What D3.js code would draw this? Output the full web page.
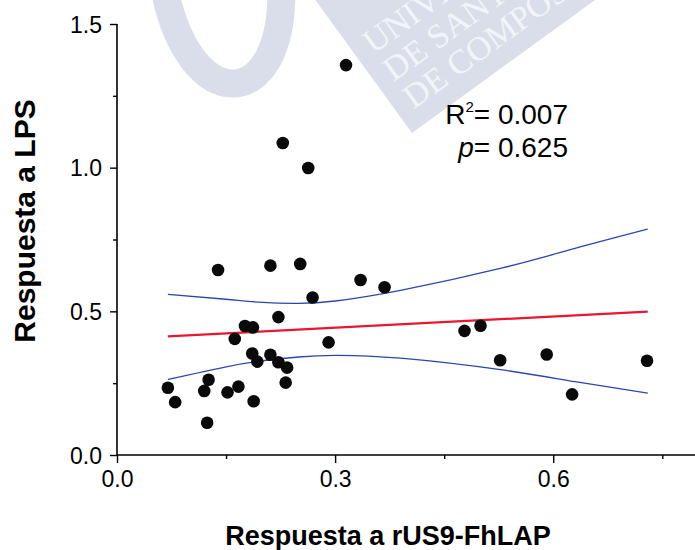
<!DOCTYPE html>
<meta charset="utf-8" />
<html>
    <head>
        <script src="https://d3js.org/d3.v7.min.js"></script>
        <style>
            body { margin: 0; background: white; }
            text { font-family: "Liberation Sans", Arial, sans-serif; fill: black; }
        </style>
    </head>
    <body>
        <svg width="695" height="550"></svg>
    </body>
    <script>
        // Data
        var xVals = [0.070, 0.080, 0.120, 0.124, 0.126, 0.139, 0.152, 0.228, 0.162, 0.167,
                     0.176, 0.186, 0.187, 0.188, 0.193, 0.211, 0.211, 0.222, 0.222, 0.232,
                     0.234, 0.252, 0.263, 0.269, 0.291, 0.315, 0.335, 0.368, 0.478, 0.500,
                     0.527, 0.591, 0.626, 0.729];
        var yVals = [0.234, 0.184, 0.223, 0.112, 0.262, 0.644, 0.218, 1.086, 0.404, 0.238,
                     0.449, 0.353, 0.444, 0.187, 0.325, 0.659, 0.349, 0.480, 0.323, 0.252,
                     0.304, 0.665, 0.999, 0.548, 0.392, 1.357, 0.609, 0.584, 0.432, 0.450,
                     0.330, 0.350, 0.211, 0.328];

        var fitX = [0.070, 0.730];
        var fitY = [0.413, 0.499];

        var bandX     = [0.07, 0.15, 0.20, 0.25, 0.30, 0.39, 0.53, 0.63, 0.73];
        var bandUpper = [0.559, 0.542, 0.531, 0.528, 0.536, 0.573, 0.651, 0.719, 0.786];
        var bandLower = [0.263, 0.307, 0.328, 0.341, 0.347, 0.337, 0.296, 0.255, 0.215];

        var xTicks = [0, 0.15, 0.3, 0.45, 0.6, 0.75];
        var xLabels = ["0.0", "", "0.3", "", "0.6", ""];
        var yTicks = [0, 0.25, 0.5, 0.75, 1.0, 1.25, 1.5];
        var yLabels = ["0.0", "", "0.5", "", "1.0", "", "1.5"];

        var svg = d3.select("svg");

        // watermark (logo behind the plot)
        var wm = svg.append("g").attr("class", "watermark");
        wm.append("path")
            .attr("d", "M163,-20 C185,118 288,118 281,-20")
            .attr("fill", "none")
            .attr("stroke", "#d9deea")
            .attr("stroke-width", 28);
        var band = wm.append("g").attr("transform", "translate(412,133) rotate(-36)");
        band.append("rect")
            .attr("x", 0).attr("y", -300).attr("width", 420).attr("height", 300)
            .attr("fill", "#d9deea");
        var wmLines = ["DE COMPOSTELA", "DE SANTIAGO", "UNIVERSIDADE"];
        band.selectAll("text").data(wmLines).enter().append("text")
            .attr("x", 15)
            .attr("y", function(d, i) { return -18 - i * 34; })
            .style("font-family", "'Liberation Serif', serif")
            .style("font-size", "34px")
            .style("fill", "white")
            .style("fill-opacity", 0.7)
            .text(function(d) { return d; });

        var x = d3.scaleLinear().domain([0, 0.795]).range([117, 695]);
        var y = d3.scaleLinear().domain([0, 1.5]).range([455, 24]);

        // axes
        var xAxis = svg.append("g")
            .attr("transform", "translate(0,455)")
            .call(d3.axisBottom(x).tickValues(xTicks).tickSize(0).tickFormat(""));
        xAxis.select(".domain").attr("stroke-width", 1.6).attr("d", "M117,0H695");
        xAxis.selectAll(".tick").append("line")
            .attr("y2", function(d, i) { return xLabels[i] ? 8 : 4; })
            .attr("stroke", "black").attr("stroke-width", 1.4);
        xAxis.selectAll(".tick").append("text")
            .attr("y", 32)
            .attr("text-anchor", "middle")
            .style("font-size", "23px")
            .text(function(d, i) { return xLabels[i]; });

        var yAxis = svg.append("g")
            .attr("transform", "translate(117,0)")
            .call(d3.axisLeft(y).tickValues(yTicks).tickSize(0).tickFormat(""));
        yAxis.select(".domain").attr("stroke-width", 1.6).attr("d", "M0,455V24");
        yAxis.selectAll(".tick").append("line")
            .attr("x2", function(d, i) { return yLabels[i] ? -7 : -4; })
            .attr("stroke", "black").attr("stroke-width", 1.4);
        yAxis.selectAll(".tick").append("text")
            .attr("x", -15)
            .attr("dy", "0.36em")
            .attr("text-anchor", "end")
            .style("font-size", "23px")
            .text(function(d, i) { return yLabels[i]; });

        // axis titles
        svg.append("text")
            .attr("x", 388).attr("y", 545)
            .attr("text-anchor", "middle")
            .style("font-size", "27px").style("font-weight", "bold")
            .text("Respuesta a rUS9-FhLAP");
        svg.append("text")
            .attr("transform", "translate(35,221) rotate(-90)")
            .attr("text-anchor", "middle")
            .style("font-size", "30px").style("font-weight", "bold")
            .text("Respuesta a LPS");

        // confidence bands
        var bandLine = d3.line().curve(d3.curveNatural)
            .x(function(d) { return x(d[0]); }).y(function(d) { return y(d[1]); });
        svg.append("path")
            .datum(d3.zip(bandX, bandUpper))
            .attr("d", bandLine).attr("fill", "none")
            .attr("stroke", "#2a48a8").attr("stroke-width", 1.3);
        svg.append("path")
            .datum(d3.zip(bandX, bandLower))
            .attr("d", bandLine).attr("fill", "none")
            .attr("stroke", "#2a48a8").attr("stroke-width", 1.3);

        // regression line
        svg.append("path")
            .datum(d3.zip(fitX, fitY))
            .attr("d", d3.line().x(function(d) { return x(d[0]); }).y(function(d) { return y(d[1]); }))
            .attr("fill", "none").attr("stroke", "#e8162f").attr("stroke-width", 2.2);

        // points
        svg.append("g").selectAll("circle")
            .data(d3.zip(xVals, yVals))
            .enter().append("circle")
            .attr("cx", function(d) { return x(d[0]); })
            .attr("cy", function(d) { return y(d[1]); })
            .attr("r", 6.3)
            .attr("fill", "#0a0a0a");

        // stats annotation
        var r2 = svg.append("text")
            .attr("x", 568).attr("y", 124)
            .attr("text-anchor", "end")
            .style("font-size", "28px");
        r2.append("tspan").text("R");
        r2.append("tspan").attr("dy", -12).style("font-size", "15px").text("2");
        r2.append("tspan").attr("dy", 12).text("= 0.007");

        var pv = svg.append("text")
            .attr("x", 568).attr("y", 157)
            .attr("text-anchor", "end")
            .style("font-size", "28px");
        pv.append("tspan").style("font-style", "italic").text("p");
        pv.append("tspan").text("= 0.625");
    </script>
</html>
